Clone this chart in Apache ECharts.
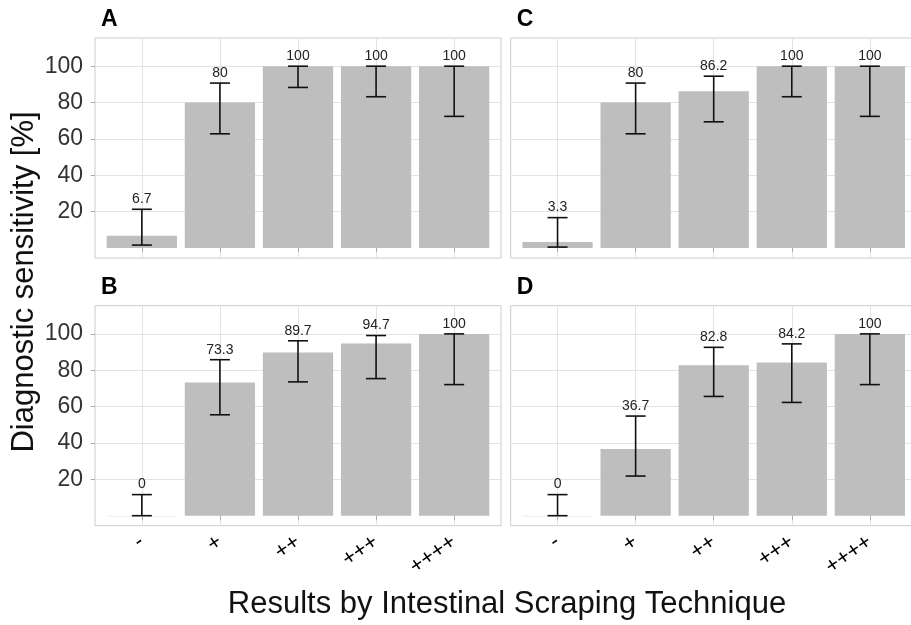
<!DOCTYPE html>
<html>
<head>
<meta charset="utf-8">
<script src="https://cdn.jsdelivr.net/npm/echarts@6/dist/echarts.min.js"></script>
<style>
  html, body { margin: 0; padding: 0; background: #fff; }
  #chart { width: 911px; height: 625px; }
</style>
</head>
<body>
<div id="chart"></div>
<script>
// categories on the x axis
const categories = ['-', '+', '++', '+++', '++++']
const yTicks = [20, 40, 60, 80, 100]

// panel values (sensitivity %) and error bar limits
const sensA = [6.7, 80, 100, 100, 100]
const lowA = [1.6, 62.8, 88.3, 83.2, 72.4]
const highA = [21.3, 90.7, 100, 100, 100]

const sensB = [0, 73.3, 89.7, 94.7, 100]
const lowB = [0, 55.5, 73.6, 75.4, 72.1]
const highB = [11.6, 85.8, 96.2, 99.1, 100]

const sensC = [3.3, 80, 86.2, 100, 100]
const lowC = [0.5, 62.8, 69.4, 83.2, 72.4]
const highC = [16.7, 90.7, 94.5, 100, 100]

const sensD = [0, 36.7, 82.8, 84.2, 100]
const lowD = [0, 21.8, 65.6, 62.3, 72.1]
const highD = [11.6, 54.8, 92.6, 94.5, 100]

const FONT = 'Liberation Sans'
const BAR_HALF = 0.45
const CAP = 10

// panel layout: A, C on top, B, D below
const panels = [
  { name: 'A', sens: sensA, low: lowA, high: highA, left: 95, top: 38, showY: true, showX: false },
  { name: 'C', sens: sensC, low: lowC, high: highC, left: 510.7, top: 38, showY: false, showX: false },
  { name: 'B', sens: sensB, low: lowB, high: highB, left: 95, top: 305.7, showY: true, showX: true },
  { name: 'D', sens: sensD, low: lowD, high: highD, left: 510.7, top: 305.7, showY: false, showX: true }
]

function renderBar(params, api) {
  const x = api.value(0)
  const y = api.value(1)
  const p0 = api.coord([x - BAR_HALF, y])
  const p1 = api.coord([x + BAR_HALF, 0])
  const h = p1[1] - p0[1]
  return {
    type: 'rect',
    shape: { x: p0[0], y: p0[1], width: p1[0] - p0[0], height: Math.max(h, 1) },
    style: { fill: y > 0 ? '#bebebe' : '#ececec' }
  }
}

function renderErr(params, api) {
  const x = api.value(0)
  const lo = api.coord([x, api.value(1)])
  const hi = api.coord([x, api.value(2)])
  const ls = { stroke: '#111', lineWidth: 1.6 }
  return {
    type: 'group',
    children: [
      { type: 'line', shape: { x1: lo[0], y1: lo[1], x2: hi[0], y2: hi[1] }, style: ls },
      { type: 'line', shape: { x1: hi[0] - CAP, y1: hi[1], x2: hi[0] + CAP, y2: hi[1] }, style: ls },
      { type: 'line', shape: { x1: lo[0] - CAP, y1: lo[1], x2: lo[0] + CAP, y2: lo[1] }, style: ls },
      {
        type: 'text',
        style: {
          x: hi[0], y: hi[1] - 3,
          text: String(api.value(3)),
          align: 'center', verticalAlign: 'bottom',
          fontSize: 14, fontFamily: FONT, fill: '#222'
        }
      }
    ]
  }
}

const grid = []
const xAxis = []
const yAxis = []
const series = []
const graphic = []

panels.forEach((p, i) => {
  grid.push({
    left: p.left, top: p.top, width: 406, height: 220,
    show: true, borderColor: '#cccccc', borderWidth: 1, backgroundColor: '#fff',
    outerBoundsMode: 'none'
  })
  xAxis.push({
    type: 'value', gridIndex: i, min: 0.4, max: 5.6,
    axisLine: { show: false },
    axisTick: { show: true, length: 4, lineStyle: { color: '#aaaaaa' }, customValues: [1, 2, 3, 4, 5] },
    axisLabel: {
      show: p.showX, customValues: [1, 2, 3, 4, 5],
      formatter: v => categories[Math.round(v) - 1],
      rotate: 35, margin: 14, fontSize: 22, color: '#000', fontFamily: FONT
    },
    splitLine: { show: true, lineStyle: { color: '#e3e3e3', width: 1 } }
  })
  yAxis.push({
    type: 'value', gridIndex: i, min: -5.5, max: 115.5,
    axisLine: { show: false },
    axisTick: { show: p.showY, length: 4, lineStyle: { color: '#aaaaaa' }, customValues: yTicks },
    axisLabel: {
      show: p.showY, customValues: yTicks, margin: 12,
      fontSize: 23, color: '#333', fontFamily: FONT
    },
    splitLine: { show: true, lineStyle: { color: '#e3e3e3', width: 1 } }
  })
  series.push({
    type: 'custom', xAxisIndex: i, yAxisIndex: i,
    renderItem: renderBar,
    data: p.sens.map((v, k) => [k + 1, v])
  })
  series.push({
    type: 'custom', xAxisIndex: i, yAxisIndex: i,
    renderItem: renderErr,
    data: p.sens.map((v, k) => [k + 1, p.low[k], p.high[k], v]),
    z: 5
  })
  graphic.push({
    type: 'text', left: p.left + 6, top: p.top - 30,
    style: { text: p.name, fontSize: 23, fontWeight: 'bold', fontFamily: FONT, fill: '#000' }
  })
})

graphic.push({
  type: 'text', x: 24, y: 282, rotation: Math.PI / 2,
  style: {
    text: 'Diagnostic sensitivity [%]', fontSize: 31, fontFamily: FONT, fill: '#111',
    align: 'center', verticalAlign: 'middle'
  }
})
graphic.push({
  type: 'text', x: 507, y: 604,
  style: {
    text: 'Results by Intestinal Scraping Technique', fontSize: 31, fontFamily: FONT, fill: '#111',
    align: 'center', verticalAlign: 'middle'
  }
})

const myChart = echarts.init(document.getElementById('chart'), null, { renderer: 'canvas' })
myChart.setOption({
  animation: false,
  backgroundColor: '#fff',
  grid,
  xAxis,
  yAxis,
  series,
  graphic
})
</script>
</body>
</html>
